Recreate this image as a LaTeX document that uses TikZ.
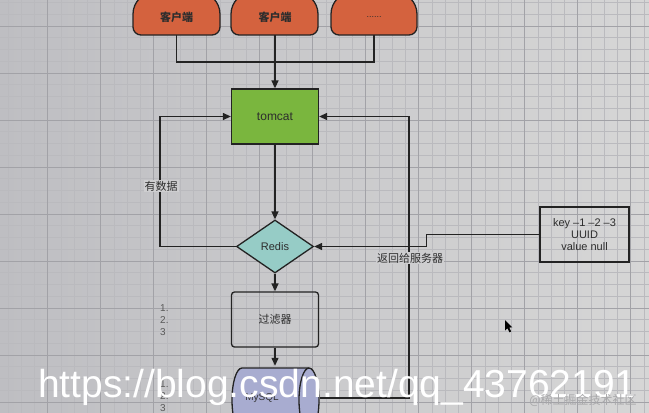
\documentclass[tikz,border=0pt]{standalone}
\usepackage{fontspec}
\setmainfont{Liberation Sans}
\newfontfamily\cjk{Noto Sans CJK SC}
\usetikzlibrary{shapes.geometric,arrows.meta,calc}
\definecolor{bgl}{RGB}{190,190,194}
\definecolor{bgr}{RGB}{214,214,214}
\definecolor{bgc}{RGB}{206,206,208}
\definecolor{gminc}{RGB}{186,186,190}
\definecolor{gmajc}{RGB}{162,162,167}
\definecolor{lc}{RGB}{35,35,35}
\definecolor{txc}{RGB}{45,45,45}
\definecolor{clc}{RGB}{212,98,62}
\definecolor{tcc}{RGB}{122,182,62}
\definecolor{rdc}{RGB}{150,204,198}
\definecolor{myc}{RGB}{168,172,208}
\definecolor{wmc}{RGB}{168,168,170}
\newcommand\clshape[2]{%
  \draw[clfill] (#1+8,35) -- (#2-8,35) .. controls (#2-3.6,35) and (#2,31.4) .. (#2,27)
    -- (#2,14) .. controls (#2,2) and (#2-10,-8) .. (#2-22,-8)
    -- (#1+22,-8) .. controls (#1+10,-8) and (#1,2) .. (#1,14)
    -- (#1,27) .. controls (#1,31.4) and (#1+3.6,35) .. (#1+8,35) -- cycle;}
\begin{document}
\begin{tikzpicture}[x=1pt,y=-1pt,
  gmin/.style={draw=gminc,line width=0.6pt},
  gmaj/.style={draw=gmajc,line width=0.9pt},
  clfill/.style={fill=clc,draw=lc,line width=1.3pt},
  ctext/.style={minimum width=87pt,minimum height=36pt,inner sep=0pt,text=txc,font=\fontsize{11}{13}\selectfont\cjk\bfseries},
  box/.style={draw=lc,line width=1.3pt,minimum width=87pt,minimum height=55pt,inner sep=0pt,text=txc,font=\fontsize{11}{13}\selectfont},
  conn/.style={draw=lc,line width=1.3pt},
  arr/.style={-{Triangle[length=8pt,width=7pt]}},
  lab/.style={fill=bgc,inner sep=1pt,text=txc,font=\fontsize{11}{13}\selectfont\cjk},
  num/.style={inner sep=0pt,align=left,text=gray!70!black,font=\fontsize{10}{11.8}\selectfont},
  cylfill/.style={fill=myc,draw=lc,line width=1.3pt}
]
\useasboundingbox (0,0) rectangle (649,413);
\shade[left color=bgl,right color=bgr] (0,0) rectangle (649,413);
\foreach \i in {0,...,50} {\draw[gmin] ({-5.3+\i*13.25},0) -- ({-5.3+\i*13.25},413);}
\foreach \i in {0,...,38} {\draw[gmin] (0,{-21+\i*11.75}) -- (649,{-21+\i*11.75});}
\foreach \i in {0,4,...,48} {\draw[gmaj] ({-5.3+\i*13.25},0) -- ({-5.3+\i*13.25},413);}
\foreach \i in {0,4,...,36} {\draw[gmaj] (0,{-21+\i*11.75}) -- (649,{-21+\i*11.75});}

% clients
\clshape{133}{220}
\clshape{231}{318}
\clshape{331}{417}
\node[ctext] (c1) at (176.5,17) {客户端};
\node[ctext] (c2) at (275,17) {客户端};
\node[ctext,font=\fontsize{9}{11}\selectfont] (c3) at (374,17) {......};

% main nodes
\node[box,fill=tcc,font=\fontsize{12}{14}\selectfont] (t) at (275,116.5) {tomcat};
\node[box,shape=diamond,fill=rdc,minimum width=77pt,minimum height=53pt,aspect=1.45] (r) at (275,246.5) {Redis};
\node[box,rounded corners=3pt,font=\fontsize{11}{13}\selectfont\cjk] (f) at (275,319.5) {过滤器};
% MySQL cylinder (horizontal axis, end face on the right)
\draw[cylfill] (242,368) -- (309,368) arc[start angle=-90,end angle=90,x radius=10,y radius=32]
   -- (242,432) arc[start angle=90,end angle=270,x radius=10,y radius=32] -- cycle;
\draw[draw=lc,line width=1.3pt] (309,368) arc[start angle=270,end angle=90,x radius=10,y radius=32];
\node[minimum width=88pt,minimum height=64pt,inner sep=0pt,font=\fontsize{10}{12}\selectfont,text=gray!40!black] (m) at (275,398) {\hspace*{-26pt}MySQL};
\node[box,minimum width=89pt,align=center,font=\fontsize{11}{12.3}\selectfont] (k) at (584.5,234.5) {key –1 –2 –3\\UUID\\value null};

% connectors
\coordinate (j) at (275,62);
\draw[conn] (c1.south) |- (j);
\draw[conn] (c3.south) |- (j);
\draw[conn,arr] (c2.south) -- (t.north);
\draw[conn,arr] (t) -- (r);
\draw[conn,arr] (r.west) -- ++(-76,0) |- (t.west);
\node[lab] (yl) at (161,186) {有数据};
\coordinate (rb) at (409,398);
\draw[conn,arr] ([xshift=0.6pt]m.east) -- (rb) |- (t.east);
\draw[conn,arr] (k.west) -- ++(-113,0) |- (r.east);
\node[lab] (fh) at (410,258) {返回给服务器};
\draw[conn,arr] (r) -- (f);
\draw[conn,arr] (f.south) -- (m.north);

% numbered notes
\node[num,anchor=west] (n1) at (160,320) {1.\\2.\\3};
\node[num,anchor=west] (n2) at (160,396) {1.\\2.\\3};

% cursor
\fill[black] (505,320) -- (505,330.5) -- (507.5,328.3) -- (509.5,332.3) -- (511.2,331.5) -- (509.2,327.6) -- (512.3,327.3) -- cycle;

% watermarks
\node[anchor=base west,inner sep=0pt,text=white,font=\fontsize{39}{39}\selectfont] (wm) at (38,397) {https://blog.csdn.net/qq\_43762191};
\node[inner sep=0pt,text=wmc,font=\fontsize{12}{14}\selectfont\cjk] (wm2) at (583,400) {@稀土掘金技术社区};
\end{tikzpicture}
\end{document}
